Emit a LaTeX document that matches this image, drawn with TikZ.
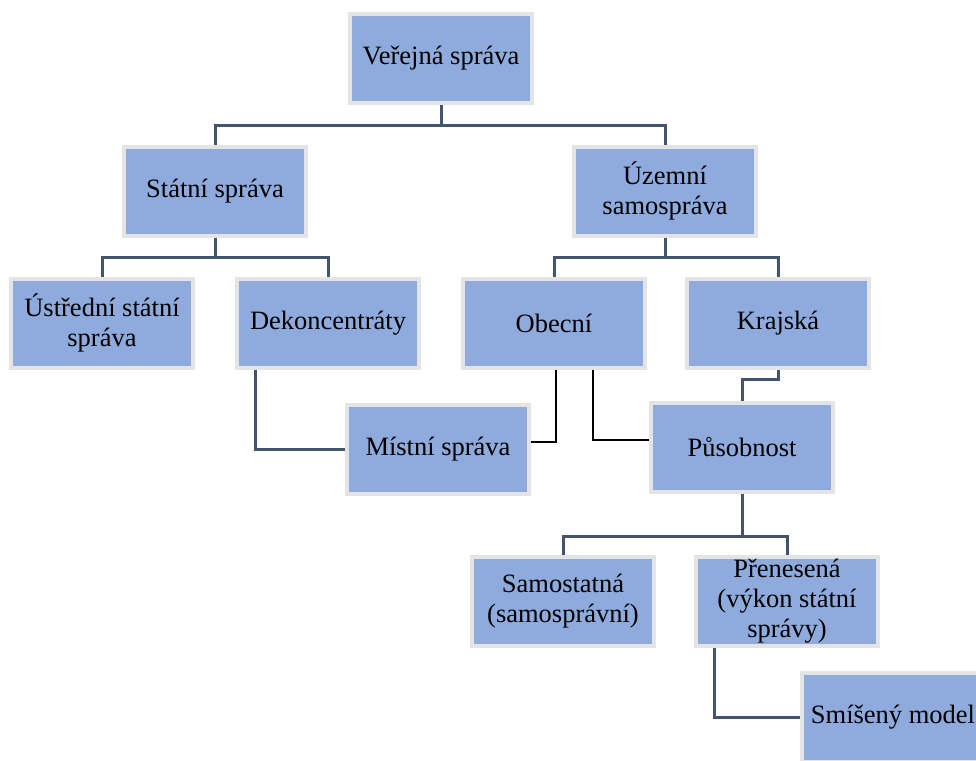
\documentclass[tikz,border=0pt]{standalone}
\usepackage{fontspec}
\setmainfont{Liberation Serif}
\definecolor{boxfill}{HTML}{8FAADC}
\definecolor{boxborder}{HTML}{E4E4E4}
\definecolor{conn}{HTML}{44546A}
\tikzset{
  box/.style={draw=boxborder, line width=4pt, fill=boxfill, minimum width=182pt, minimum height=89pt, align=center, inner sep=2pt, font=\fontsize{26.5}{30}\selectfont, text=black},
  link/.style={draw=conn, line width=3pt},
  thin/.style={draw=black, line width=1.5pt}
}
\begin{document}
\begin{tikzpicture}[x=1pt,y=-1pt]
\useasboundingbox (0,0) rectangle (976,760);
\clip (0,0) rectangle (976,760);
\node[box] (ver) at (441,58.5) {Veřejná správa};
\node[box] (stat) at (215,191) {Státní správa};
\node[box] (uzem) at (665,191) {Územní\\samospráva};
\node[box] (ustr) at (102,323) {Ústřední státní\\správa};
\node[box] (dek) at (328,323) {Dekoncentráty};
\node[box] (obec) at (554,323) {Obecní};
\node[box] (kraj) at (778,323) {Krajská};
\node[box] (mist) at (438,449) {Místní správa};
\node[box] (pus) at (742,447) {Působnost};
\node[box] (samo) at (563,601.5) {Samostatná\\(samosprávní)};
\node[box] (pren) at (787,601.5) {Přenesená\\(výkon státní\\správy)};
\node[box] (smis) at (893,717.5) {Smíšený model};

\draw[link] (ver.south) -- ++(0,20) -| (stat.north);
\draw[link] (ver.south) -- ++(0,20) -| (uzem.north);
\draw[link] (stat.south) -- ++(0,20) -| (ustr.north);
\draw[link] (stat.south) -- ++(0,20) -| (dek.north);
\draw[link] (uzem.south) -- ++(0,20) -| (obec.north);
\draw[link] (uzem.south) -- ++(0,20) -| (kraj.north);
\draw[link] ([xshift=-73pt]dek.south) |- (mist.west);
\draw[thin] ([xshift=2pt]obec.south) |- ([yshift=7pt]mist.east);
\draw[thin] ([xshift=39pt]obec.south) |- ([yshift=7pt]pus.west);
\draw[link] (kraj.south) -- ++(0,10) -| (pus.north);
\draw[link] (pus.south) -- ++(0,43) -| (samo.north);
\draw[link] (pus.south) -- ++(0,43) -| (pren.north);
\draw[link] ([xshift=-73pt]pren.south) |- (smis.west);
\end{tikzpicture}
\end{document}
